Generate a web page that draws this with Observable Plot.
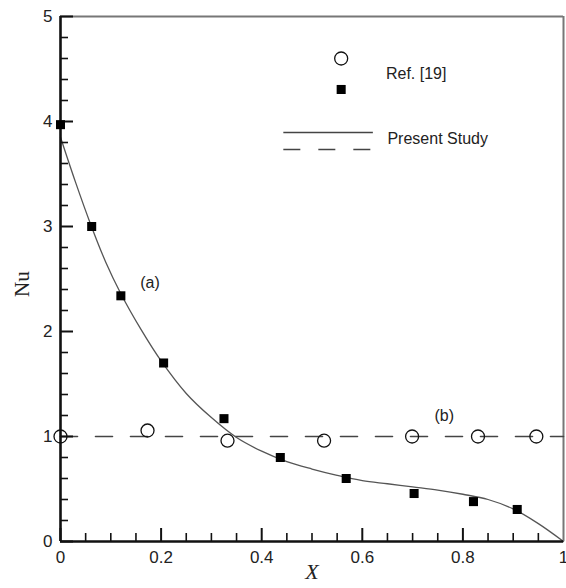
<!DOCTYPE html>
<html>
<head>
<meta charset="utf-8">
<script src="https://cdn.jsdelivr.net/npm/d3@7"></script>
<script src="https://cdn.jsdelivr.net/npm/@observablehq/plot@0.6"></script>
<style>
  html, body { margin: 0; padding: 0; background: #fff; }
  #chart svg { display: block; }
</style>
</head>
<body>
<div id="chart"></div>
<script>
// Reference data (Ref. [19]) — filled squares, case (a)
const refAX = [0, 0.062, 0.12, 0.205, 0.325, 0.437, 0.568, 0.703, 0.821, 0.908];
const refAY = [3.97, 3.0, 2.34, 1.70, 1.17, 0.80, 0.60, 0.457, 0.38, 0.305];
// Reference data (Ref. [19]) — open circles, case (b)
const refBX = [0, 0.173, 0.332, 0.524, 0.699, 0.83, 0.946];
const refBY = [1.0, 1.057, 0.96, 0.96, 1.0, 1.0, 1.0];
// Present study — solid curve (a)
const curveX = [0, 0.03, 0.06, 0.09, 0.12, 0.16, 0.2, 0.25, 0.3, 0.35, 0.4, 0.45, 0.5, 0.55, 0.6, 0.65, 0.7, 0.75, 0.8, 0.85, 0.9, 0.95, 1.0];
const curveY = [3.85, 3.42, 3.02, 2.66, 2.36, 2.02, 1.72, 1.41, 1.18, 0.99, 0.86, 0.76, 0.69, 0.63, 0.58, 0.55, 0.52, 0.49, 0.45, 0.40, 0.31, 0.17, 0.0];
// Present study — dashed line (b)
const dashX = [0, 1];
const dashY = [1, 1];
// Axis ticks
const xMajor = [0, 0.2, 0.4, 0.6, 0.8];
const xMinor = [0.05, 0.1, 0.15, 0.25, 0.3, 0.35, 0.45, 0.5, 0.55, 0.65, 0.7, 0.75, 0.85, 0.9, 0.95];
const xLabels = [0, 0.2, 0.4, 0.6, 0.8, 1];
const yMajor = [0, 1, 2, 3, 4, 5];
const yMinor = [0.2, 0.4, 0.6, 0.8, 1.2, 1.4, 1.6, 1.8, 2.2, 2.4, 2.6, 2.8, 3.2, 3.4, 3.6, 3.8, 4.2, 4.4, 4.6, 4.8];
// Legend & annotations (data coordinates)
const legendSymbols = [{x: 0.558, y: 4.60, s: "circle"}, {x: 0.558, y: 4.305, s: "square"}];
const legendTexts = [{x: 0.647, y: 4.457, t: "Ref. [19]"}, {x: 0.65, y: 3.838, t: "Present Study"}];
const legendSolid = [{x1: 0.444, x2: 0.622, y: 3.895}];
const legendDash = [{x1: 0.444, x2: 0.622, y: 3.733}];
const annotations = [{x: 0.178, y: 2.46, t: "(a)"}, {x: 0.763, y: 1.20, t: "(b)"}];

const squares = refAX.map((x, i) => ({x, y: refAY[i]}));
const circles = refBX.map((x, i) => ({x, y: refBY[i]}));
const curve = curveX.map((x, i) => ({x, y: curveY[i]}));
const dash = dashX.map((x, i) => ({x, y: dashY[i]}));

const W = 566, H = 588, mL = 60, mR = 3, mT = 16, mB = 47;
const plotH = H - mT - mB, plotW = W - mL - mR;
const font = "'Liberation Sans', Arial, sans-serif";
const fmt = d => String(d);

const chart = Plot.plot({
  width: W, height: H,
  marginLeft: mL, marginRight: mR, marginTop: mT, marginBottom: mB,
  style: {fontFamily: font, fontSize: "17px", color: "#222", background: "#fff"},
  x: {domain: [0, 1], axis: null},
  y: {domain: [0, 5], axis: null},
  marks: [
    // frame top/right
    Plot.ruleY([5], {stroke: "#777", strokeWidth: 2}),
    Plot.ruleX([1], {stroke: "#777", strokeWidth: 2}),
    // dashed line (b)
    Plot.line(dash, {x: "x", y: "y", stroke: "#444", strokeWidth: 1.6, strokeDasharray: "17,18"}),
    // solid curve (a)
    Plot.line(curve, {x: "x", y: "y", stroke: "#555", strokeWidth: 1.3, curve: "catmull-rom"}),
    // ticks inward
    Plot.ruleX(xMajor, {stroke: "#111", strokeWidth: 2, insetTop: plotH - 13}),
    Plot.ruleX(xMinor, {stroke: "#111", strokeWidth: 1.6, insetTop: plotH - 8}),
    Plot.ruleY(yMajor, {stroke: "#111", strokeWidth: 2, insetRight: plotW - 13}),
    Plot.ruleY(yMinor, {stroke: "#111", strokeWidth: 1.6, insetRight: plotW - 8}),
    // axes lines
    Plot.ruleX([0], {stroke: "#111", strokeWidth: 2.6}),
    Plot.ruleY([0], {stroke: "#111", strokeWidth: 2.6}),
    // tick labels
    Plot.axisX(xLabels, {tickSize: 0, tickPadding: 9, fontSize: 17, fill: "#222", label: null, tickFormat: fmt}),
    Plot.axisY(yMajor, {tickSize: 0, tickPadding: 8, fontSize: 17, fill: "#222", label: null, tickFormat: fmt}),
    // data points
    Plot.dot(circles, {x: "x", y: "y", r: 6.5, stroke: "#111", strokeWidth: 1.3, fill: "none"}),
    Plot.dot(squares, {x: "x", y: "y", r: 5.1, symbol: "square", fill: "#000", stroke: "none"}),
    // legend
    Plot.dot(legendSymbols.filter(d => d.s === "circle"), {x: "x", y: "y", r: 6.5, stroke: "#111", strokeWidth: 1.3, fill: "none"}),
    Plot.dot(legendSymbols.filter(d => d.s === "square"), {x: "x", y: "y", r: 5.1, symbol: "square", fill: "#000"}),
    Plot.ruleY(legendSolid, {y: "y", x1: "x1", x2: "x2", stroke: "#444", strokeWidth: 1.4}),
    Plot.ruleY(legendDash, {y: "y", x1: "x1", x2: "x2", stroke: "#444", strokeWidth: 1.4, strokeDasharray: "17,18"}),
    Plot.text(legendTexts, {x: "x", y: "y", text: "t", textAnchor: "start", fontSize: 16, fill: "#222"}),
    Plot.text(annotations, {x: "x", y: "y", text: "t", fontSize: 16, fill: "#222"}),
    // axis titles
    Plot.text(["Nu"], {frameAnchor: "left", dx: -38, dy: 18, rotate: -90, fontFamily: "'Liberation Serif', 'Times New Roman', serif", fontSize: 21, fill: "#222"}),
    Plot.text(["X"], {frameAnchor: "bottom", dy: 37, fontFamily: "'Liberation Serif', 'Times New Roman', serif", fontStyle: "italic", fontSize: 22, fill: "#222"})
  ]
});
document.getElementById("chart").appendChild(chart);
</script>
</body>
</html>
